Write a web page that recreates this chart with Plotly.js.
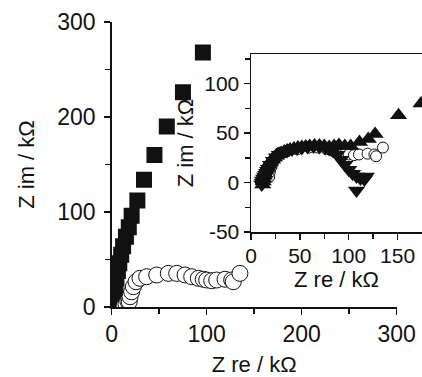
<!DOCTYPE html>
<html>
<head>
<meta charset="utf-8">
<script src="https://cdn.plot.ly/plotly-3.0.1.min.js"></script>
<style>html,body{margin:0;padding:0;background:#fff;}#chart{width:422px;height:377px;}</style>
</head>
<body>
<div id="chart"></div>
<script>
// Main plot: filled squares (Z re, Z im in kΩ)
const squareRe = [0.8, 1, 1.5, 2, 2.5, 3, 4, 5, 6.5, 8, 10, 12, 15, 18, 21, 27, 34, 45, 58, 75, 96];
const squareIm = [1, 2.5, 5, 8, 12, 17, 23, 30, 38, 46, 55, 64, 74, 84, 96, 112, 134, 160, 190, 226, 268];

// Open circles (shown in both main plot and inset)
const circleRe = [13, 15, 17, 18.5, 19.3, 21, 22.8, 25.6, 29.8, 36.8, 47.4, 59.6, 68.4, 77.2, 84.2, 91.2, 96.4, 100, 105.3, 110.5, 119.3, 126.3, 128, 135];
const circleIm = [1, 3, 6, 5.6, 10.8, 16, 21.4, 26.6, 30.2, 31.9, 33.7, 35.4, 35.4, 33.7, 31.9, 30.2, 29.2, 28.4, 27.7, 28.4, 29.2, 28.4, 26.6, 35.4];

// Inset: filled up-triangles
const upRe = [12, 12.5, 13, 13.5, 14, 15, 16, 17, 18, 19, 20, 22, 24, 26, 28, 31, 34, 37, 40, 44, 48, 52, 56, 60, 65, 70, 75, 80, 85, 90, 96, 102, 111, 120, 127, 151, 174];
const upIm = [-2, 1, 4, 7, 9, 12, 14, 16, 18, 20, 21, 23, 25, 27, 28.5, 30, 31.5, 32.5, 33.5, 34.5, 35.5, 36, 36.5, 37, 37.5, 37.5, 37, 36, 37, 38, 37, 37, 41, 44, 49, 68, 80];

// Inset: filled down-triangles
const downRe = [11, 11.5, 12, 13, 14, 15, 16, 17, 18, 20, 23, 26, 29, 33, 37, 42, 47, 52, 58, 64, 70, 76, 80, 84, 88, 92, 96, 100, 104, 108, 112, 116, 118, 108];
const downIm = [-2, 0, 2, 4, 6, 8, 10, 12, 14, 18, 22, 25.5, 28, 30.5, 32, 33.5, 34.5, 35, 36, 36.5, 36, 35, 34, 32, 28, 23, 18, 13, 9, 6, 4, 3, 6, -8];

const mainXTicks = [0, 100, 200, 300];
const mainYTicks = [0, 100, 200, 300];
const insetXTicks = [0, 50, 100, 150];
const insetYTicks = [-50, 0, 50, 100];

const FONT = 'Arial, "Liberation Sans", sans-serif';

const traces = [
  {x: squareRe, y: squareIm, type: 'scatter', mode: 'markers', xaxis: 'x', yaxis: 'y',
   marker: {symbol: 'square', size: 16, color: '#111', line: {width: 0}}},
  {x: circleRe, y: circleIm, type: 'scatter', mode: 'markers', xaxis: 'x', yaxis: 'y',
   marker: {symbol: 'circle', size: 16, color: '#fff', line: {width: 1, color: '#111'}}},
  {x: circleRe, y: circleIm, type: 'scatter', mode: 'markers', xaxis: 'x2', yaxis: 'y2',
   marker: {symbol: 'circle', size: 11, color: '#fff', line: {width: 1, color: '#111'}}},
  {x: upRe, y: upIm, type: 'scatter', mode: 'markers', xaxis: 'x2', yaxis: 'y2',
   marker: {symbol: 'triangle-up', size: 15, color: '#111', line: {width: 0}}},
  {x: downRe, y: downIm, type: 'scatter', mode: 'markers', xaxis: 'x2', yaxis: 'y2',
   marker: {symbol: 'triangle-down', size: 15, color: '#111', line: {width: 0}}}
];

const axisCommon = {
  showline: true, linecolor: '#111', linewidth: 1.5, showgrid: false, zeroline: false,
  ticks: 'outside', ticklen: 6, tickwidth: 1.5, tickcolor: '#111',
  tickfont: {family: FONT, size: 23, color: '#111'}
};

const layout = {
  width: 422, height: 377,
  margin: {l: 0, r: 0, t: 0, b: 0},
  paper_bgcolor: '#fff', plot_bgcolor: '#fff',
  showlegend: false,
  xaxis: Object.assign({}, axisCommon, {
    domain: [111.7/422, 396.7/422], range: [0, 300],
    tickvals: mainXTicks, ticktext: mainXTicks.map(String),
    minor: {tickvals: [50, 150, 250], ticks: 'outside', ticklen: 5, tickwidth: 1.5, tickcolor: '#111'},
    title: {text: 'Z re / kΩ', font: {family: FONT, size: 22, color: '#111'}, standoff: 15}
  }),
  yaxis: Object.assign({}, axisCommon, {
    domain: [70/377, 355/377], range: [0, 300],
    tickvals: mainYTicks, ticktext: mainYTicks.map(String),
    ticklabelstandoff: 4,
    minor: {tickvals: [50, 150, 250], ticks: 'outside', ticklen: 5, tickwidth: 1.5, tickcolor: '#111'},
    title: {text: 'Z im / kΩ', font: {family: FONT, size: 22, color: '#111'}, standoff: 16}
  }),
  xaxis2: Object.assign({}, axisCommon, {
    domain: [251/422, 1], range: [0, 175], anchor: 'y2', mirror: true,
    tickvals: insetXTicks, ticktext: insetXTicks.map(String),
    tickfont: {family: FONT, size: 21, color: '#111'},
    ticklabelstandoff: -2,
    minor: {tickvals: [25, 75, 125], ticks: 'outside', ticklen: 5, tickwidth: 1.5, tickcolor: '#111'},
    title: {text: 'Z re / kΩ', font: {family: FONT, size: 22, color: '#111'}, standoff: 0}
  }),
  yaxis2: Object.assign({}, axisCommon, {
    domain: [145/377, 323/377], range: [-50, 130], anchor: 'x2',
    tickvals: insetYTicks, ticktext: insetYTicks.map(String),
    tickfont: {family: FONT, size: 21, color: '#111'},
    minor: {tickvals: [-25, 25, 75, 125], ticks: 'outside', ticklen: 5, tickwidth: 1.5, tickcolor: '#111'},
    title: {text: 'Z im / kΩ', font: {family: FONT, size: 22, color: '#111'}, standoff: 4}
  })
};

Plotly.newPlot('chart', traces, layout, {displayModeBar: false, staticPlot: true});
</script>
</body>
</html>
